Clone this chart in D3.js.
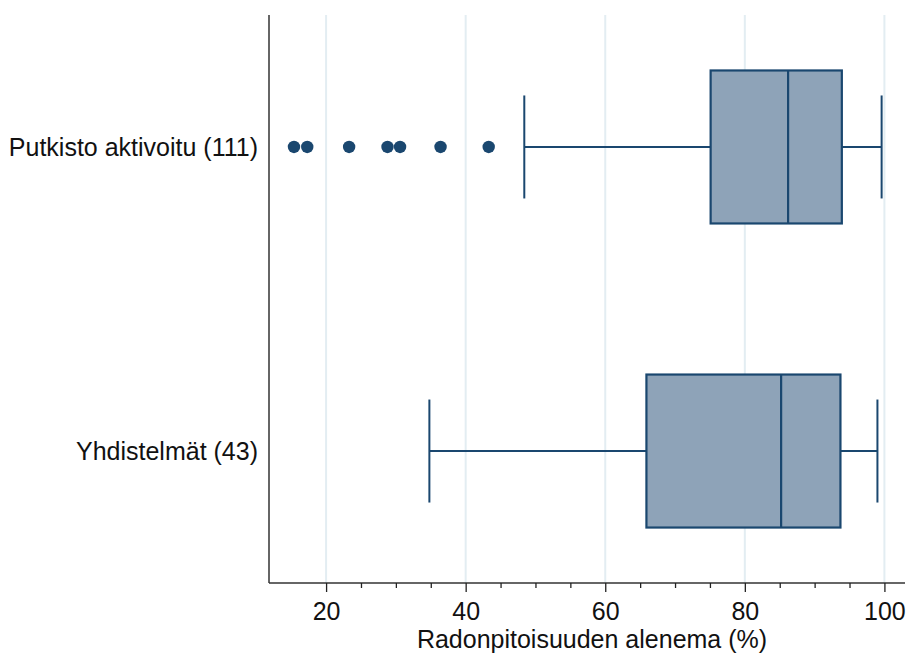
<!DOCTYPE html>
<html>
<head>
<meta charset="utf-8">
<script src="https://cdn.jsdelivr.net/npm/d3@7"></script>
<style>
  html, body { margin: 0; padding: 0; background: #fff; }
  svg { display: block; font-family: "Liberation Sans", Arial, sans-serif; }
</style>
</head>
<body>
<svg id="chart" width="908" height="655"></svg>
<script>
// Groups shown on the vertical axis (top to bottom)
const groups = ["Putkisto aktivoitu (111)", "Yhdistelmät (43)"];
// Box statistics per group: lower whisker, Q1, median, Q3, upper whisker
const whiskerLow  = [48.4, 34.8];
const q1          = [75.1, 65.9];
const median      = [86.2, 85.2];
const q3          = [93.9, 93.7];
const whiskerHigh = [99.6, 99.0];
// Outlying observations (group index, value)
const outlierGroup = [0, 0, 0, 0, 0, 0, 0];
const outlierValue = [15.4, 17.3, 23.3, 28.8, 30.6, 36.4, 43.3];
// Axis ticks
const majorTicks = [20, 40, 60, 80, 100];
const minorTicks = [25, 30, 35, 45, 50, 55, 65, 70, 75, 85, 90, 95];
const xTitle = "Radonpitoisuuden alenema (%)";

const navy = "#1a476f";
const boxFill = "#8ea3b8";
const gridColor = "#e3edf2";
const fontSize = 25;

const svg = d3.select("#chart");
const plotLeft = 269, plotRight = 905, plotTop = 15, plotBottom = 583;

const x = d3.scaleLinear().domain([11.82, 102.95]).range([plotLeft, plotRight]);
const y = d3.scalePoint().domain(groups).range([plotTop, plotBottom]).padding(0.434);

const boxH = 153, capH = 103;

// vertical gridlines
svg.append("g").selectAll("line").data(majorTicks).join("line")
  .attr("x1", d => x(d)).attr("x2", d => x(d))
  .attr("y1", plotTop).attr("y2", plotBottom)
  .attr("stroke", gridColor).attr("stroke-width", 2);

// boxes
const rows = groups.map((g, i) => ({
  g, lo: whiskerLow[i], q1: q1[i], med: median[i], q3: q3[i], hi: whiskerHigh[i]
}));
const gBox = svg.append("g");
rows.forEach(r => {
  const cy = y(r.g);
  // whiskers
  gBox.append("line").attr("x1", x(r.lo)).attr("x2", x(r.q1)).attr("y1", cy).attr("y2", cy)
    .attr("stroke", navy).attr("stroke-width", 2);
  gBox.append("line").attr("x1", x(r.q3)).attr("x2", x(r.hi)).attr("y1", cy).attr("y2", cy)
    .attr("stroke", navy).attr("stroke-width", 2);
  [r.lo, r.hi].forEach(v => {
    gBox.append("line").attr("x1", x(v)).attr("x2", x(v))
      .attr("y1", cy - capH / 2).attr("y2", cy + capH / 2)
      .attr("stroke", navy).attr("stroke-width", 2);
  });
  // box
  gBox.append("rect").attr("x", x(r.q1)).attr("y", cy - boxH / 2)
    .attr("width", x(r.q3) - x(r.q1)).attr("height", boxH)
    .attr("fill", boxFill).attr("stroke", navy).attr("stroke-width", 2.2);
  // median
  gBox.append("line").attr("x1", x(r.med)).attr("x2", x(r.med))
    .attr("y1", cy - boxH / 2).attr("y2", cy + boxH / 2)
    .attr("stroke", navy).attr("stroke-width", 2.2);
});

// outliers
svg.append("g").selectAll("circle").data(outlierValue).join("circle")
  .attr("cx", d => x(d))
  .attr("cy", (d, i) => y(groups[outlierGroup[i]]))
  .attr("r", 6.2)
  .attr("fill", navy);

// x axis
const xAxis = svg.append("g").attr("transform", `translate(0,${plotBottom})`);
xAxis.append("line").attr("x1", plotLeft).attr("x2", plotRight).attr("y1", 0).attr("y2", 0)
  .attr("stroke", "#333").attr("stroke-width", 1.5);
xAxis.append("g").call(d3.axisBottom(x).tickValues(majorTicks).tickSize(9).tickSizeOuter(0))
  .call(g => g.select(".domain").remove())
  .call(g => g.selectAll(".tick line").attr("stroke", "#222").attr("stroke-width", 1.3))
  .call(g => g.selectAll(".tick text")
    .attr("y", 37).attr("dy", 0)
    .attr("font-size", fontSize).attr("fill", "#111")
    .attr("font-family", "'Liberation Sans', Arial, sans-serif"));
xAxis.append("g").call(d3.axisBottom(x).tickValues(minorTicks).tickSize(5).tickFormat(""))
  .call(g => g.select(".domain").remove())
  .call(g => g.selectAll(".tick line").attr("stroke", "#222").attr("stroke-width", 1.3));

// x title
svg.append("text").attr("x", 592).attr("y", 648)
  .attr("text-anchor", "middle").attr("font-size", fontSize).attr("fill", "#111")
  .text(xTitle);

// y axis
svg.append("line").attr("x1", plotLeft).attr("x2", plotLeft).attr("y1", plotTop).attr("y2", plotBottom)
  .attr("stroke", "#333").attr("stroke-width", 1.5);
svg.append("g").selectAll("text").data(groups).join("text")
  .attr("x", plotLeft - 11).attr("y", d => y(d))
  .attr("dy", "0.35em").attr("text-anchor", "end")
  .attr("font-size", fontSize).attr("fill", "#111")
  .text(d => d);
</script>
</body>
</html>
